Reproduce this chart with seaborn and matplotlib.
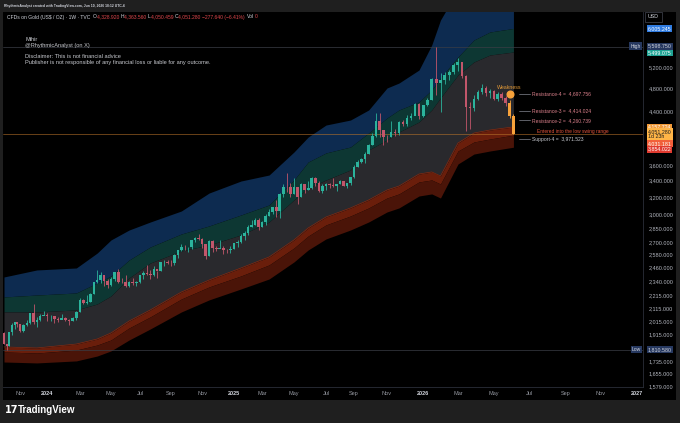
import numpy as np
import pandas as pd
import matplotlib
matplotlib.use('Agg')
import matplotlib.pyplot as plt
import matplotlib.transforms as mtransforms
from matplotlib.patches import Rectangle
from matplotlib.ticker import NullLocator
import seaborn as sns

W, H = 680, 423

# weekly candles, Sep 25 2023 .. Jun 8 2026 (open = previous close)
FIRST_OPEN = 1925.0
CLOSES = [1848, 1832, 1932, 1981, 2006, 1993, 1940, 1981, 2001, 2072,
          2004, 2019, 2053, 2062, 2049, 2049, 2029, 2018, 2039, 2024,
          2013, 2035, 2083, 2179, 2155, 2165, 2230, 2329, 2344, 2392,
          2337, 2301, 2360, 2415, 2334, 2327, 2293, 2333, 2321, 2326,
          2391, 2411, 2400, 2387, 2443, 2431, 2507, 2512, 2503, 2497,
          2577, 2622, 2658, 2653, 2656, 2721, 2747, 2736, 2685, 2563,
          2715, 2650, 2633, 2648, 2622, 2621, 2640, 2690, 2702, 2770,
          2798, 2861, 2883, 2936, 2857, 2910, 2984, 3023, 3084, 3037,
          3237, 3327, 3319, 3241, 3325, 3203, 3357, 3289, 3310, 3432,
          3368, 3274, 3337, 3355, 3350, 3337, 3363, 3398, 3336, 3371,
          3448, 3586, 3643, 3685, 3760, 3886, 4018, 4252, 4113, 4002,
          4000, 4084, 4065, 4240, 4198, 4300, 4338, 4530, 4330, 4510,
          4600, 4980, 4890, 4960, 5040, 5100, 5230, 5290, 5020, 4480,
          4470, 4620, 4730, 4810, 4720, 4750, 4620, 4700, 4640, 4540,
          4328.92, 4051.28]
HIGHS = [1931, 1851, 1934, 1997, 2009, 2007, 1993, 1993, 2018, 2075,
         2146, 2047, 2071, 2088, 2078, 2062, 2039, 2042, 2065, 2044,
         2031, 2041, 2088, 2195, 2185, 2223, 2236, 2330, 2432, 2418,
         2353, 2353, 2378, 2422, 2450, 2364, 2388, 2342, 2368, 2339,
         2393, 2424, 2483, 2432, 2477, 2431, 2509, 2531, 2529, 2529,
         2586, 2625, 2685, 2670, 2657, 2721, 2758, 2790, 2750, 2685,
         2721, 2722, 2665, 2726, 2665, 2638, 2665, 2697, 2726, 2786,
         2817, 2886, 2942, 2955, 2956, 2930, 3005, 3057, 3086, 3168,
         3245, 3357, 3500, 3368, 3435, 3252, 3366, 3365, 3403, 3446,
         3452, 3398, 3365, 3375, 3377, 3439, 3363, 3409, 3400, 3378,
         3454, 3600, 3674, 3707, 3791, 3897, 4059, 4380, 4381, 4045,
         4030, 4245, 4132, 4256, 4264, 4353, 4380, 4550, 4550, 4520,
         4640, 4990, 5598.75, 5090, 5110, 5140, 5280, 5380, 5300, 5050,
         4560, 4680, 4780, 4880, 4840, 4790, 4780, 4730, 4740, 4660,
         4600, 4363.56]
LOWS = [1846, 1810.58, 1832, 1908, 1954, 1969, 1932, 1933, 1976, 1994,
        1995, 1973, 2016, 2056, 2016, 2013, 2002, 2010, 2030, 2015,
        1984, 2016, 2024, 2083, 2146, 2146, 2163, 2228, 2325, 2325,
        2291, 2277, 2291, 2340, 2325, 2325, 2287, 2286, 2303, 2293,
        2319, 2353, 2393, 2353, 2380, 2364, 2425, 2470, 2491, 2472,
        2485, 2546, 2615, 2624, 2603, 2640, 2708, 2723, 2643, 2536,
        2564, 2605, 2613, 2643, 2583, 2596, 2596, 2635, 2656, 2700,
        2730, 2772, 2857, 2880, 2832, 2857, 2880, 2982, 3000, 2971,
        2957, 3206, 3260, 3202, 3237, 3120, 3204, 3245, 3280, 3293,
        3340, 3255, 3247, 3282, 3310, 3325, 3268, 3355, 3330, 3311,
        3350, 3436, 3577, 3628, 3630, 3757, 3884, 4000, 4004, 3886,
        3930, 3997, 4022, 4040, 4165, 4170, 4271, 4350, 4275, 4310,
        4490, 4590, 4680, 4400, 4880, 4950, 5060, 5130, 4990, 4100,
        4120, 4420, 4590, 4700, 4660, 4640, 4590, 4580, 4600, 4500,
        4300, 4050.459]
HIGHLIGHT = [140, 141]

# envelope lines, sampled at these candle indices
BAND_IDX = [0, 11, 22, 28, 32, 37, 43, 52, 60, 69, 77, 84, 88, 93, 100, 105,
            110, 113, 118, 121, 123, 127, 131, 135, 141]
BLUE_TOP = [2374, 2437, 2455, 2596, 2726, 2829, 2915, 3037, 3248, 3397, 3474,
            3786, 4004, 4187, 4266, 4429, 4808, 4898, 5142, 5646, 6198, 6932,
            7332, 7470, 7611]
GREEN_TOP = [2203, 2219, 2236, 2321, 2383, 2529, 2655, 2787, 2872, 2992, 3106,
             3410, 3647, 3772, 3857, 4064, 4298, 4429, 4563, 4772, 4991, 5398,
             5752, 5926, 6005.245]
GRAY_TOP = [2083, 2083, 2099, 2146, 2211, 2365, 2501, 2616, 2675, 2777, 2915,
            3165, 3310, 3410, 3540, 3814, 3959, 4079, 4234, 4429, 4632, 5047,
            5298, 5438, 5499.075]
RED_TOP = [1828, 1821, 1848, 1883, 1926, 2014, 2099, 2244, 2347, 2455, 2558,
           2726, 2851, 2970, 3072, 3165, 3285, 3334, 3487, 3514, 3461, 3915,
           4064, 4110, 4157.724]
RED_MID = [1794, 1787, 1807, 1841, 1876, 1962, 2045, 2186, 2287, 2383, 2483,
           2645, 2766, 2883, 2981, 3072, 3188, 3237, 3385, 3410, 3359, 3800,
           3930, 3974, 4031.181]
RED_BOT = [1728, 1722, 1735, 1767, 1801, 1876, 1955, 2083, 2179, 2270, 2356,
           2511, 2626, 2736, 2829, 2915, 3026, 3072, 3212, 3237, 3188, 3620,
           3757, 3800, 3854.022]

PRICE_TICKS = [1579, 1655, 1735, 1915, 2015, 2115, 2215, 2340, 2460, 2580,
               2700, 2850, 3000, 3200, 3400, 3600, 4400, 4800, 5200]
TIME_IDX = [6, 14, 23, 32, 40, 49, 58, 67, 75, 84, 93, 101, 110, 119, 127,
            136, 145, 154, 162, 171]
TIME_LABELS = ['Nov', '2024', 'Mar', 'May', 'Jul', 'Sep', 'Nov', '2025', 'Mar',
               'May', 'Jul', 'Sep', 'Nov', '2026', 'Mar', 'May', 'Jul', 'Sep',
               'Nov', '2027']
# where each time label sits on the 680 px canvas (the time scale is not even)
TIME_PX = [20, 47, 80, 111, 140, 171, 202, 234, 262, 294, 326, 354, 387, 423,
           458, 494, 529, 566, 600, 637]

LEVEL_NAMES = ['Resistance-4', 'Resistance-3', 'Resistance-2', 'Support-4']
LEVEL_VALUES = [4697.756, 4414.024, 4260.739, 3971.523]

LAST_CLOSE = 4051.28
HIGH_PRICE = 5598.75
LOW_PRICE = 1810.58

UP, DOWN, HILITE = '#2bb39c', '#c2566b', '#f7a23b'

sns.set_theme(style='dark', rc={'axes.facecolor': 'black', 'figure.facecolor': '#1f1f1f'})
plt.rcParams['font.family'] = ['Liberation Sans', 'DejaVu Sans']

fig = plt.figure(figsize=(W / 100, H / 100), dpi=100, facecolor='#1f1f1f')
fig.add_artist(Rectangle((3 / W, 1 - 400 / H), 673 / W, 388 / H, transform=fig.transFigure,
                         fc='black', ec='none', zorder=-5))
ax = fig.add_axes([3 / W, 1 - 387 / H, 640 / W, 375 / H])
ax.set_facecolor('black')

# bar index -> canvas pixel, piecewise through the time labels
anchor_idx = np.array([-10, 0] + TIME_IDX + [180], dtype=float)
anchor_px = np.array([-29, 4] + TIME_PX + [674], dtype=float)


def fwd(v):
    return np.interp(v, anchor_idx, anchor_px)


def inv(p):
    return np.interp(p, anchor_px, anchor_idx)


ax.set_xscale('function', functions=(fwd, inv))

# candles
df = pd.DataFrame({'close': CLOSES, 'high': HIGHS, 'low': LOWS})
df['open'] = [FIRST_OPEN] + CLOSES[:-1]
df['idx'] = np.arange(len(df))
df['color'] = np.where(df['close'] >= df['open'], UP, DOWN)
df.loc[HIGHLIGHT, 'color'] = HILITE

# envelope
bands = pd.DataFrame({'idx': BAND_IDX, 'blue': BLUE_TOP, 'green': GREEN_TOP, 'gray': GRAY_TOP,
                      'r1': RED_TOP, 'r2': RED_MID, 'r3': RED_BOT})
ax.fill_between(bands['idx'], bands['green'], bands['blue'], color='#0d2b50', lw=0, zorder=1)
ax.fill_between(bands['idx'], bands['gray'], bands['green'], color='#0d3733', lw=0, zorder=1)
ax.fill_between(bands['idx'], bands['r1'], bands['gray'], color='#29292d', lw=0, zorder=1)
ax.fill_between(bands['idx'], bands['r2'], bands['r1'], color='#6a1e0b', lw=0, zorder=1)
ax.fill_between(bands['idx'], bands['r3'], bands['r2'], color='#4a1408', lw=0, zorder=1)
sns.lineplot(data=bands, x='idx', y='r1', color='#85280f', lw=0.5, ax=ax, zorder=2)

ax.vlines(df['idx'], df['low'], df['high'], colors=df['color'], lw=0.6, zorder=3)
body_lo = df[['open', 'close']].min(axis=1)
body_h = (df['open'] - df['close']).abs().clip(lower=6)
ax.bar(df['idx'], body_h, bottom=body_lo, width=0.72, color=df['color'], lw=0, zorder=4)

# horizontal reference lines
ax.axhline(HIGH_PRICE, color='#3a3d45', lw=0.5, zorder=2)
ax.axhline(LOW_PRICE, color='#3a3d45', lw=0.5, zorder=2)
ax.axhline(LAST_CLOSE, color='#b8732a', lw=0.5, alpha=0.8, zorder=2)

# weakness marker and levels
ax.plot([140], [LEVEL_VALUES[0]], 'o', color='#f7a23b', ms=4.8, zorder=6)
ax.text(140, 4825, 'Weakness', color='#e49a37', fontsize=3.8, ha='center', va='center')
lvl_colors = ['#d97f8a', '#d97f8a', '#d97f8a', '#c8cad0']
for name, val, c in zip(LEVEL_NAMES, LEVEL_VALUES, lvl_colors):
    ax.plot([142.4, 145.2], [val, val], color='#6d7078', lw=0.6, zorder=5)
    ax.text(145.7, val, f'{name} =  {val:,.3f}', color=c, fontsize=3.6, va='center', ha='left')
ax.text(147.0, 4083, 'Entered into the low swing range', color='#e2533a', fontsize=3.5,
        va='center', ha='left')

# axes
ax.set_xlim(inv(3), inv(643))
ax.set_yscale('log')
ax.set_ylim(1574, 6386)
ax.yaxis.tick_right()
ax.set_yticks(PRICE_TICKS)
ax.set_yticklabels([f'{v:,.3f}' for v in PRICE_TICKS])
ax.yaxis.set_minor_locator(NullLocator())
ax.xaxis.set_minor_locator(NullLocator())
ax.tick_params(axis='y', length=0, pad=4, labelsize=4, labelcolor='#b2b5be')
ax.set_xticks(TIME_IDX)
ax.set_xticklabels(TIME_LABELS)
ax.tick_params(axis='x', length=0, pad=3, labelsize=4, labelcolor='#9598a1')
for lab in ax.get_xticklabels():
    if lab.get_text().isdigit():
        lab.set_color('#d1d4dc')
        lab.set_fontweight('bold')
ax.grid(False)
ax.set_xlabel('')
ax.set_ylabel('')
for side in ['top', 'left']:
    ax.spines[side].set_visible(False)
for side in ['right', 'bottom']:
    ax.spines[side].set_color('#2a2e39')
    ax.spines[side].set_linewidth(0.6)

# price-axis tags
trans = mtransforms.blended_transform_factory(ax.transAxes, ax.transData)


def axis_tag(price, text, fc, tc='white', dy=0):
    ax.annotate(text, xy=(1.0, price), xycoords=trans, xytext=(5, -dy),
                textcoords='offset pixels', ha='left', va='center', fontsize=3.8, color=tc,
                linespacing=1.0,
                bbox=dict(boxstyle='square,pad=0.15', fc=fc, ec='none'),
                annotation_clip=False, zorder=10)


axis_tag(6005.245, '6,005.245', '#2f7be0')
axis_tag(HIGH_PRICE, '5,598.750', '#26385f', '#d1d4dc', dy=-1)
axis_tag(5499.075, '5,499.075', '#1fa394', dy=1)
axis_tag(4157.724, '4,157.724', '#f29a38')
axis_tag(LAST_CLOSE, '4,051.280\n1d 23h', '#ffb547', '#1a1a1a')
axis_tag(4031.181, '4,031.181', '#f2603a', dy=8.5)
axis_tag(3854.022, '3,854.022', '#e03a2f', dy=2)
axis_tag(LOW_PRICE, '1,810.580', '#26385f', '#d1d4dc')
for price, txt, dy in [(HIGH_PRICE, 'High', -1), (LOW_PRICE, 'Low', 0)]:
    ax.annotate(txt, xy=((641 - 3) / 640, price), xycoords=trans, xytext=(0, -dy),
                textcoords='offset pixels', ha='right', va='center', fontsize=3.6,
                color='#d1d4dc', zorder=10, annotation_clip=False,
                bbox=dict(boxstyle='square,pad=0.25', fc='#26385f', ec='none'))

fig.text(648 / W, 1 - 17 / H, 'USD', fontsize=3.8, color='#d1d4dc', va='center', ha='left',
         bbox=dict(boxstyle='square,pad=0.5', fc='black', ec='#434651', lw=0.5))

# header texts
renderer = fig.canvas.get_renderer()


def text_run(x_px, y_px, parts, size, weight='normal'):
    x = x_px
    for txt, c in parts:
        t = fig.text(x / W, 1 - y_px / H, txt, color=c, fontsize=size, va='center',
                     ha='left', fontweight=weight)
        x += t.get_window_extent(renderer=renderer).width


text_run(4, 5.5, [('RhythmicAnalyst created with TradingView.com, Jun 10, 2026 18:12 UTC-4',
                   '#d1d4dc')], 2.45, 'bold')
red = '#e0474c'
white = '#d1d4dc'
text_run(7, 17, [('CFDs on Gold (US$ / OZ) · 1W · TVC  ', white), ('O', white),
                 ('4,328.920 ', red), ('H', white), ('4,363.560 ', red), ('L', white),
                 ('4,050.459 ', red), ('C', white), ('4,051.280 ', red),
                 ('\u2212277.640 (\u22126.41%)  ', red), ('Vol', white), ('0', red)], 3.6)

for y_px, txt in [(39.5, 'Mihir'), (45, '@RhythmicAnalyst (on X)'),
                  (57, 'Disclaimer: This is not financial advice'),
                  (62.5, 'Publisher is not responsible of any financial loss or liable for any outcome.')]:
    fig.text(25 / W, 1 - y_px / H, txt, color='#c9cbd1', fontsize=4.1, va='center', ha='left')

# footer logo
fig.text(5 / W, 1 - 410 / H, '17', color='white', fontsize=7, fontweight='heavy',
         va='center', ha='left', family='DejaVu Sans')
fig.text(18 / W, 1 - 410 / H, 'TradingView', color='white', fontsize=7.0, fontweight='bold',
         va='center', ha='left')

fig.savefig('out.png', dpi=100, facecolor=fig.get_facecolor())
